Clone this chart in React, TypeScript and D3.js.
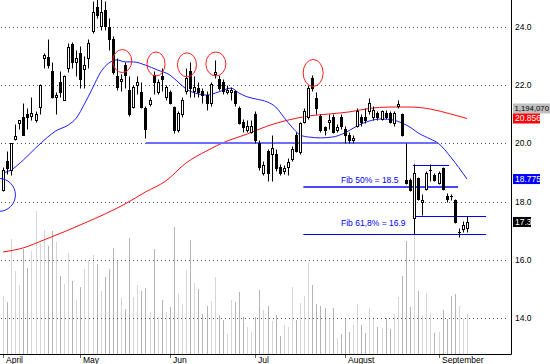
import React from 'react';
import * as d3 from 'd3';

// daily bars, April 2 .. mid September
const opens = [
  18.4, 19.4, 19.1, 20.15, 20.7, 20.9, 21.0, 20.95, 20.8, 21.25,
  22.95, 22.97, 22.5, 21.6, 22.1, 21.5, 22.6, 23.4, 22.8, 23.1,
  22.55, 22.95, 23.85, 24.7, 24.05, 24.6, 24.0, 23.6, 22.3, 22.15,
  22.7, 21.85, 21.25, 22.0, 21.75, 21.2, 21.35, 22.35, 21.75, 22.3,
  21.6, 21.75, 21.25, 20.45, 21.0, 21.8, 22.5, 21.8, 21.9, 21.8,
  21.65, 21.4, 22.4, 22.2, 22.1, 21.75, 21.75, 21.8, 21.2, 20.75,
  20.45, 20.4, 21.0, 20.0, 19.0, 19.75, 19.65, 19.65, 19.2, 19.05,
  19.2, 19.45, 20.3, 19.7, 20.75, 20.9, 22.25, 21.55, 20.95, 20.55,
  20.75, 20.9, 20.45, 20.9, 20.5, 20.3, 20.1, 20.6, 20.9, 20.9,
  21.1, 20.9, 21.05, 20.85, 21.05, 21.05, 20.7, 21.3, 21.0, 18.75,
  18.75, 17.45, 18.8, 18.0, 18.45, 19.05, 18.9, 18.65, 19.15, 18.2,
  18.2, 18.05, 16.95, 17.05, 17.1,
];
const highs = [
  19.2, 19.75, 20.0, 20.65, 20.8, 21.4, 21.2, 21.6, 21.1, 22.05,
  23.1, 23.6, 22.8, 21.75, 22.5, 22.35, 23.45, 23.5, 23.2, 23.35,
  23.0, 23.6, 24.9, 24.95, 24.95, 24.9, 24.3, 23.7, 22.95, 22.4,
  22.8, 22.3, 22.0, 22.3, 22.1, 21.3, 21.6, 22.5, 22.2, 22.6,
  22.0, 21.85, 21.3, 21.1, 21.6, 22.6, 22.8, 22.3, 22.1, 21.9,
  21.8, 22.1, 22.85, 22.35, 22.2, 22.0, 21.95, 21.85, 21.3, 20.85,
  20.8, 20.8, 21.1, 20.1, 19.4, 19.8, 20.3, 19.8, 19.3, 19.25,
  19.5, 19.9, 20.4, 20.75, 21.2, 22.0, 22.35, 21.75, 21.0, 20.6,
  21.0, 21.0, 20.65, 21.0, 20.6, 20.4, 20.3, 21.2, 21.0, 21.2,
  21.55, 21.3, 21.1, 21.15, 21.15, 21.1, 21.1, 21.5, 21.05, 20.0,
  18.8, 19.3, 18.85, 18.25, 19.05, 19.3, 19.0, 19.05, 19.2, 18.3,
  18.25, 18.1, 17.1, 17.35, 17.5,
];
const lows = [
  18.35, 18.95, 18.9, 20.1, 20.5, 20.3, 20.5, 20.8, 20.75, 21.0,
  22.6, 22.6, 21.55, 21.0, 21.6, 21.5, 22.45, 22.6, 22.3, 21.9,
  21.9, 22.6, 23.8, 24.3, 23.9, 23.9, 23.2, 22.4, 21.85, 21.8,
  21.9, 20.95, 21.2, 21.7, 21.2, 20.2, 21.3, 21.7, 21.7, 21.8,
  21.5, 21.35, 20.35, 20.4, 20.9, 21.7, 21.6, 21.6, 21.6, 21.4,
  21.15, 21.3, 22.25, 21.85, 21.7, 21.7, 21.5, 21.3, 20.65, 20.4,
  20.4, 20.35, 20.0, 19.1, 18.9, 18.7, 18.7, 19.05, 18.9, 18.95,
  18.9, 19.4, 19.7, 19.65, 20.7, 20.85, 21.8, 21.0, 20.4, 20.3,
  20.5, 20.35, 20.4, 20.5, 20.0, 20.0, 20.0, 20.55, 20.6, 20.7,
  21.0, 20.8, 20.8, 20.8, 20.85, 20.7, 20.6, 21.2, 20.25, 18.6,
  18.35, 16.9, 18.05, 17.55, 18.4, 18.7, 18.7, 18.6, 18.4, 18.0,
  18.05, 17.25, 16.8, 16.95, 16.95,
];
const closes = [
  19.1, 19.15, 20.0, 20.25, 20.8, 20.3, 20.9, 21.05, 21.0, 22.0,
  23.05, 22.7, 21.6, 21.65, 21.75, 22.3, 23.3, 22.8, 22.95, 22.2,
  22.7, 23.45, 24.5, 24.4, 24.5, 24.05, 23.6, 22.45, 21.95, 22.2,
  22.35, 21.0, 21.95, 22.1, 21.25, 20.5, 21.5, 22.1, 22.1, 22.2,
  21.95, 21.4, 20.45, 21.05, 21.5, 22.25, 21.9, 21.95, 21.75, 21.65,
  21.4, 22.05, 22.45, 21.9, 21.8, 21.85, 21.85, 21.4, 20.7, 20.55,
  20.6, 20.6, 20.1, 19.2, 19.25, 19.0, 19.85, 19.15, 19.0, 19.15,
  19.35, 19.8, 19.75, 20.7, 21.1, 21.9, 21.9, 21.2, 20.45, 20.45,
  20.8, 20.4, 20.55, 20.6, 20.3, 20.1, 20.2, 21.1, 20.75, 20.8,
  21.4, 21.15, 20.9, 21.1, 20.9, 20.75, 21.05, 21.35, 20.3, 18.65,
  18.4, 19.0, 18.1, 18.05, 19.0, 19.1, 18.75, 19.0, 18.45, 18.1,
  18.15, 17.3, 16.95, 17.2, 17.3,
];
// volume in thousands of shares
const volumes = [
  1731, 1552, 3433, 2478, 2060, 3134, 2567, 3075, 4269, 3313,
  3701, 3224, 3672, 3343, 2328, 2090, 3015, 2179, 1612, 2000,
  2537, 2806, 2955, 2687, 1881, 2298, 2537, 3164, 2776, 1672,
  1343, 3463, 1701, 2060, 1881, 1970, 1254, 3134, 1104, 1612,
  1254, 1403, 3791, 1791, 1493, 2507, 3403, 2119, 1940, 1194,
  1433, 1582, 2298, 1164, 1015, 597, 1612, 1552, 1851, 1104,
  806, 657, 1104, 1910, 1313, 1433, 985, 1164, 537, 866,
  806, 2000, 1015, 1522, 1731, 2746, 2060, 1493, 1433, 1373,
  1045, 1373, 478, 597, 1045, 657, 866, 1493, 866, 627,
  1373, 1104, 806, 776, 1075, 746, 1194, 1701, 2328, 3373,
  1403, 5791, 1881, 1164, 1821, 1224, 627, 657, 1313, 1045,
  1731, 1791, 1433, 1045, 1194.07,
];

const monthNames = ['April', 'May', 'Jun', 'Jul', 'August', 'September'];
const monthStartIdx = [0, 19, 41, 62, 84, 107];
const priceTicks = [14, 16, 18, 20, 22, 24];

// moving averages (bar index, value)
const fastMaIdx = [0, 2, 5, 8, 11, 13, 16, 18, 20, 22, 24, 26, 28, 30, 32, 35, 38, 41, 43, 45, 48, 50, 53, 56, 58, 60, 62, 65, 67, 69, 71, 73, 75, 78, 81, 84, 87, 90, 93, 96, 98, 100, 102, 105, 107, 110, 114];
const fastMaVal = [18.98, 19.09, 19.43, 19.84, 20.22, 20.43, 20.63, 20.87, 21.35, 21.9, 22.45, 22.76, 22.87, 22.8, 22.8, 22.69, 22.52, 22.35, 22.11, 21.87, 21.7, 21.66, 21.77, 21.9, 21.73, 21.6, 21.53, 21.42, 21.25, 20.9, 20.56, 20.29, 20.22, 20.19, 20.22, 20.36, 20.6, 20.77, 20.84, 20.8, 20.7, 20.56, 20.36, 20.15, 20.0, 19.53, 18.775];
const slowMaIdx = [0, 5, 10, 15, 20, 25, 30, 35, 40, 45, 50, 55, 60, 65, 70, 75, 80, 85, 90, 95, 100, 105, 110, 114];
const slowMaVal = [16.27, 16.41, 16.68, 16.96, 17.26, 17.57, 17.92, 18.33, 18.71, 19.33, 19.74, 20.08, 20.32, 20.6, 20.8, 20.94, 21.01, 21.08, 21.2, 21.25, 21.25, 21.18, 21.01, 20.856];

// annotations
const supportLines = [
  { from: 35.1, to: 106.6, price: 20.0, color: '#6f6fff', width: 2 },
  { from: 73.8, to: 111.8, price: 18.5, color: '#4848ff', width: 2 },
  { from: 73.8, to: 118.7, price: 16.9, color: '#0000ee', width: 1 },
  { from: 100.7, to: 118.7, price: 17.5, color: '#0000ee', width: 1 },
  { from: 100.7, to: 109.6, price: 19.26, color: '#0000ee', width: 1 },
];
const fibLabels = [
  { idx: 83.05, price: 18.5, dy: -4, text: 'Fib 50% = 18.5' },
  { idx: 83.05, price: 16.9, dy: -7.5, text: 'Fib 61,8% = 16.9' },
];
const topCircles = [
  { idx: 29.3, price: 22.83, rx: 9.5, ry: 11.5 },
  { idx: 37.6, price: 22.73, rx: 9, ry: 12 },
  { idx: 45.2, price: 22.7, rx: 9.5, ry: 12 },
  { idx: 52.3, price: 22.73, rx: 10, ry: 12 },
  { idx: 76.2, price: 22.42, rx: 10, ry: 13.5 },
];
const lowCircle = { idx: -1, price: 18.23, r: 16.5 };

const W = 550;
const H = 364;
const axisX = 511;
const axisY = 354;
const FONT = '"Liberation Sans", Arial, sans-serif';

function App() {
  const n = closes.length;
  const x = d3.scaleLinear().domain([0, n - 1]).range([3, 467]);
  const y = d3.scaleLinear().domain([14, 24]).range([318, 27]);
  const yVol = d3.scaleLinear().domain([0, 6000]).range([axisY, 153]);
  const px = (i: number) => Math.round(x(i)) + 0.5;
  const py = (p: number) => Math.round(y(p)) + 0.5;

  const fastLine = d3
    .line<number>()
    .x((_, k) => x(fastMaIdx[k]))
    .y((d) => y(d))
    .curve(d3.curveMonotoneX);
  const slowLine = d3
    .line<number>()
    .x((_, k) => x(slowMaIdx[k]))
    .y((d) => y(d))
    .curve(d3.curveMonotoneX);

  const last = n - 1;
  const volText = d3.format(',')(Math.round(volumes[last] * 1000));
  const slowLast = slowMaVal[slowMaVal.length - 1];
  const fastLast = fastMaVal[fastMaVal.length - 1];
  const tags = [
    { v: slowLast, text: d3.format('.3f')(slowLast), bg: '#ff0000', fg: '#fff', w: 27 },
    { v: fastLast, text: d3.format('.3f')(fastLast), bg: '#0000ff', fg: '#fff', w: 27 },
    { v: closes[last], text: String(closes[last]), bg: '#000', fg: '#fff', w: 18 },
  ];
  const redTop = y(slowLast) - 5;

  return (
    <svg
      width={W}
      height={H}
      style={{ position: 'absolute', left: 0, top: 0, background: '#fff' }}
      fontFamily={FONT}
    >
      <rect width={W} height={H} fill='#fff' />

      {/* volume */}
      <g>
        {volumes.map((v, i) => (
          <line
            key={i}
            x1={px(i)}
            x2={px(i)}
            y1={axisY}
            y2={yVol(v)}
            stroke={closes[i] >= opens[i] ? '#d6d6d6' : '#b4b4b4'}
            strokeWidth={1}
          />
        ))}
      </g>

      {/* grid */}
      <g>
        {priceTicks.map((t) => (
          <line
            key={t}
            x1={1}
            x2={axisX - 2}
            y1={py(t)}
            y2={py(t)}
            stroke='#555'
            strokeDasharray='1,3'
          />
        ))}
      </g>

      {/* moving averages */}
      <path d={slowLine(slowMaVal) || ''} fill='none' stroke='#ff1010' strokeWidth={1} />
      <path d={fastLine(fastMaVal) || ''} fill='none' stroke='#1c1cff' strokeWidth={1} />

      {/* support / fib lines */}
      {supportLines.map((l, k) => (
        <line
          key={k}
          x1={x(l.from)}
          x2={x(l.to)}
          y1={l.width === 2 ? Math.round(y(l.price)) : py(l.price)}
          y2={l.width === 2 ? Math.round(y(l.price)) : py(l.price)}
          stroke={l.color}
          strokeWidth={l.width}
        />
      ))}

      {/* candles */}
      <g>
        {closes.map((c, i) => {
          const o = opens[i];
          const cx = px(i);
          const yo = py(o);
          const yc = py(c);
          const top = Math.min(yo, yc);
          const bot = Math.max(yo, yc);
          const up = c >= o;
          return (
            <g key={i}>
              <line x1={cx} x2={cx} y1={py(highs[i])} y2={py(lows[i])} stroke='#000' />
              {bot - top < 1.5 ? (
                <line x1={cx - 1.5} x2={cx + 1.5} y1={top} y2={top} stroke='#000' />
              ) : up ? (
                <rect x={cx - 1} y={top} width={2} height={bot - top} fill='#fff' stroke='#000' />
              ) : (
                <rect x={cx - 1.5} y={top - 0.5} width={3} height={bot - top + 1} fill='#000' />
              )}
            </g>
          );
        })}
      </g>

      {/* circles */}
      {topCircles.map((c, k) => (
        <ellipse key={k} cx={x(c.idx)} cy={y(c.price)} rx={c.rx} ry={c.ry} fill='none' stroke='#ff2020' />
      ))}
      <circle cx={x(lowCircle.idx)} cy={y(lowCircle.price)} r={lowCircle.r} fill='none' stroke='#2020ff' />

      {/* fib labels */}
      {fibLabels.map((f, k) => (
        <text key={k} x={x(f.idx)} y={y(f.price) + f.dy} fontSize={8.5} fill='#0000ff'>
          {f.text}
        </text>
      ))}

      {/* axes */}
      <line x1={axisX + 0.5} x2={axisX + 0.5} y1={0} y2={axisY + 0.5} stroke='#000' />
      <line x1={0} x2={axisX + 0.5} y1={axisY + 0.5} y2={axisY + 0.5} stroke='#000' />
      {priceTicks.map((t) => (
        <text key={t} x={515} y={y(t) + 3} fontSize={8.5} fill='#000'>
          {d3.format('.1f')(t)}
        </text>
      ))}
      {monthStartIdx.map((m, k) => (
        <g key={k}>
          <line x1={px(m)} x2={px(m)} y1={axisY + 1} y2={axisY + 4} stroke='#666' />
          <text x={px(m) + 2.5} y={362.5} fontSize={8.5} fill='#000'>
            {monthNames[k]}
          </text>
        </g>
      ))}

      {/* value tags */}
      <rect x={513} y={redTop - 10} width={W - 513} height={10} fill='#c0c0c0' />
      <text x={514.5} y={redTop - 2} fontSize={8} fill='#000' textLength={34.5} lengthAdjust='spacingAndGlyphs'>
        {volText}
      </text>
      {tags.map((t, k) => (
        <g key={k}>
          <rect x={513} y={y(t.v) - 5} width={t.w} height={10} fill={t.bg} />
          <text x={515} y={y(t.v) + 3} fontSize={8.5} fill={t.fg}>
            {t.text}
          </text>
        </g>
      ))}
    </svg>
  );
}

export default App;
